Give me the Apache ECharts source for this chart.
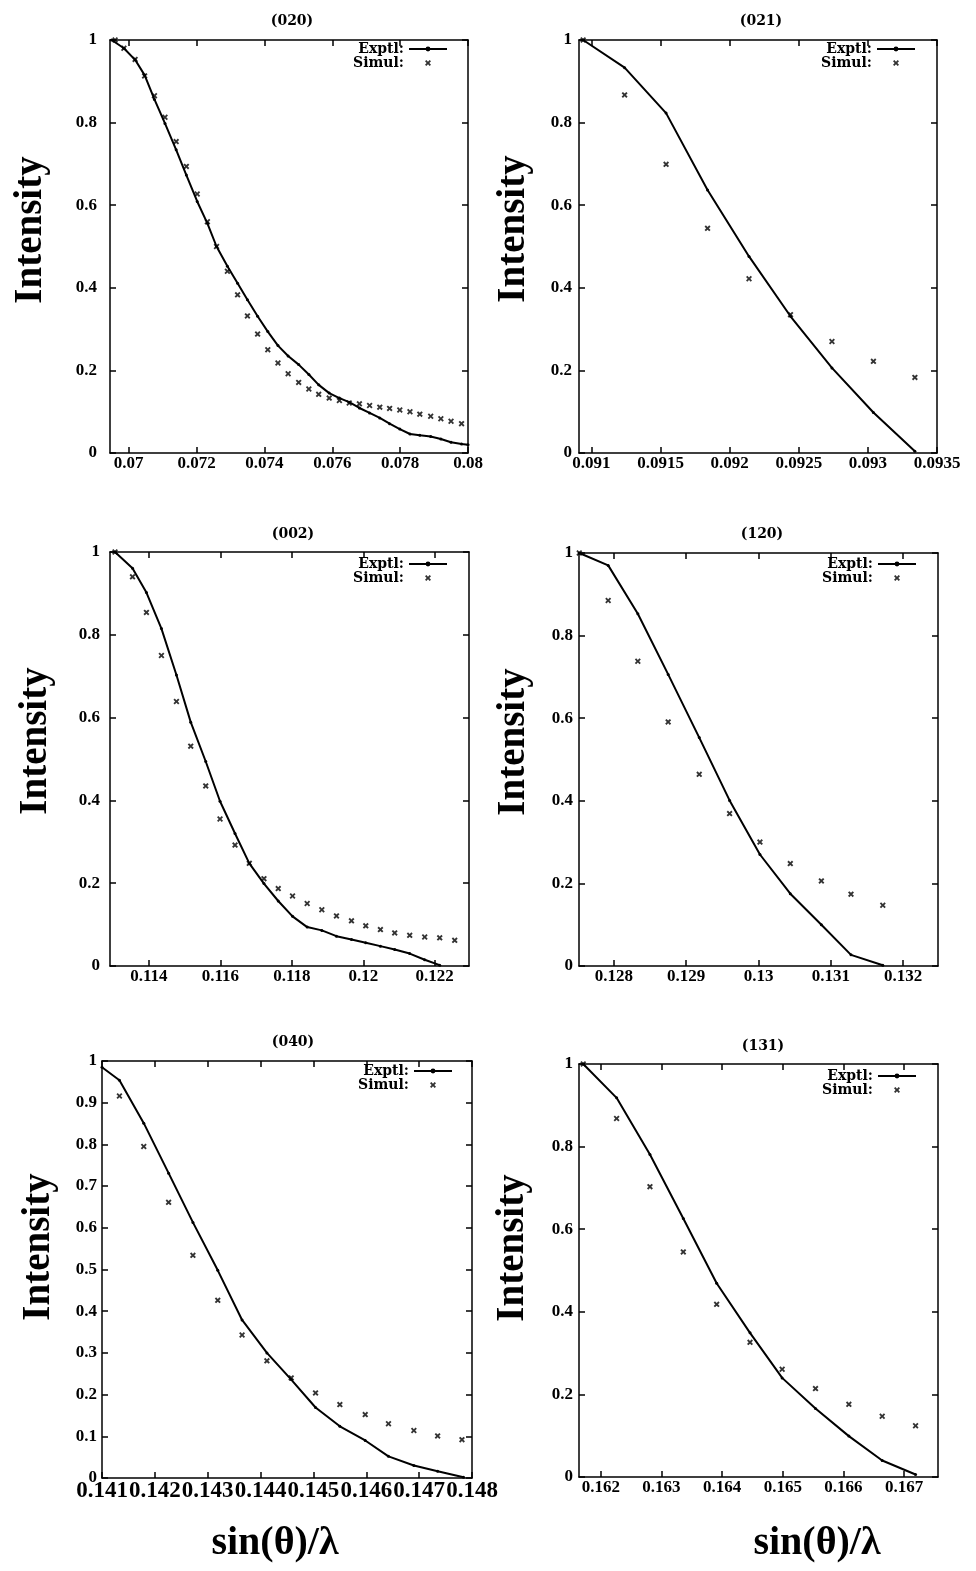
<!DOCTYPE html>
<html>
<head>
<meta charset="utf-8">
<title>Intensity vs sin(θ)/λ</title>
<style>
  html, body { margin: 0; padding: 0; background: #fff; }
  #main { width: 976px; height: 1571px; }
</style>
</head>
<body>
<div id="main"></div>
<script src="https://cdn.jsdelivr.net/npm/echarts@6/dist/echarts.min.js"></script>
<script>
// ---- data ----
// (020)
var x020 = [0.0695, 0.06986, 0.07019, 0.07047, 0.07076, 0.07107, 0.0714, 0.0717, 0.07202, 0.07232, 0.07259, 0.07291,
  0.07321, 0.0735, 0.0738, 0.0741, 0.0744, 0.0747, 0.07501, 0.07531, 0.0756, 0.07591, 0.07621, 0.0765, 0.0768, 0.0771,
  0.0774, 0.07769, 0.07799, 0.07829, 0.07858, 0.0789, 0.0792, 0.0795, 0.07981, 0.08];
var exptl020 = [1.0, 0.98, 0.952, 0.915, 0.856, 0.798, 0.734, 0.673, 0.609, 0.556, 0.5, 0.452, 0.411, 0.371, 0.331,
  0.294, 0.26, 0.235, 0.214, 0.19, 0.165, 0.145, 0.133, 0.123, 0.109, 0.097, 0.085, 0.071, 0.058, 0.046, 0.043, 0.04,
  0.034, 0.026, 0.022, 0.02];
var simX020 = [0.0696, 0.06986, 0.07019, 0.07047, 0.07076, 0.07107, 0.0714, 0.0717, 0.07202, 0.07232, 0.07259, 0.07291,
  0.07321, 0.0735, 0.0738, 0.0741, 0.0744, 0.0747, 0.07501, 0.07531, 0.0756, 0.07591, 0.07621, 0.0765, 0.0768, 0.0771,
  0.0774, 0.07769, 0.07799, 0.07829, 0.07858, 0.0789, 0.0792, 0.0795, 0.07981];
var simul020 = [1.0, 0.98, 0.953, 0.913, 0.865, 0.813, 0.754, 0.694, 0.627, 0.56, 0.5, 0.44, 0.383, 0.332, 0.288, 0.25,
  0.218, 0.192, 0.171, 0.155, 0.142, 0.133, 0.127, 0.121, 0.119, 0.115, 0.111, 0.108, 0.104, 0.1, 0.094, 0.089, 0.083,
  0.077, 0.071];

// (021)
var x021 = [0.09094, 0.09124, 0.09154, 0.09184, 0.09214, 0.09244, 0.09274, 0.09304, 0.09334];
var exptl021 = [1.0, 0.933, 0.823, 0.637, 0.476, 0.331, 0.206, 0.098, 0.004];
var simul021 = [1.0, 0.867, 0.699, 0.544, 0.422, 0.335, 0.27, 0.222, 0.183];

// (002)
var x002 = [0.11305, 0.11354, 0.11393, 0.11435, 0.11477, 0.11517, 0.11559, 0.11599, 0.11641, 0.11681, 0.11722, 0.11762,
  0.11802, 0.11843, 0.11884, 0.11925, 0.11967, 0.12007, 0.12048, 0.12088, 0.1213, 0.12172, 0.12214];
var exptl002 = [1.0, 0.961, 0.902, 0.815, 0.703, 0.589, 0.494, 0.398, 0.32, 0.248, 0.199, 0.157, 0.12, 0.094, 0.086,
  0.072, 0.064, 0.056, 0.048, 0.04, 0.03, 0.015, 0.002];
var simX002 = [0.11305, 0.11354, 0.11393, 0.11435, 0.11477, 0.11517, 0.11559, 0.11599, 0.11641, 0.11681, 0.11722, 0.11762,
  0.11802, 0.11843, 0.11884, 0.11925, 0.11967, 0.12007, 0.12048, 0.12088, 0.1213, 0.12172, 0.12214, 0.12256];
var simul002 = [1.0, 0.94, 0.854, 0.75, 0.639, 0.531, 0.435, 0.355, 0.292, 0.248, 0.211, 0.187, 0.169, 0.151, 0.136,
  0.121, 0.109, 0.097, 0.088, 0.08, 0.074, 0.07, 0.068, 0.062];

// (120)
var x120 = [0.12752, 0.12792, 0.12833, 0.12875, 0.12918, 0.1296, 0.13002, 0.13044, 0.13087, 0.13128, 0.13172];
var exptl120 = [1.0, 0.97, 0.853, 0.706, 0.553, 0.401, 0.27, 0.175, 0.1, 0.027, 0.002];
var simul120 = [1.0, 0.885, 0.738, 0.591, 0.464, 0.369, 0.3, 0.248, 0.206, 0.174, 0.147];

// (040)
var x040 = [0.141, 0.14133, 0.14179, 0.14226, 0.14272, 0.14319, 0.14365, 0.14412, 0.14458, 0.14504, 0.1455, 0.14598,
  0.14642, 0.1469, 0.14735, 0.14784];
var exptl040 = [0.985, 0.954, 0.851, 0.731, 0.613, 0.498, 0.379, 0.3, 0.236, 0.169, 0.124, 0.09, 0.052, 0.03, 0.016, 0.002];
var simX040 = [0.14133, 0.14179, 0.14226, 0.14272, 0.14319, 0.14365, 0.14412, 0.14458, 0.14504, 0.1455, 0.14598,
  0.14642, 0.1469, 0.14735, 0.14781];
var simul040 = [0.916, 0.795, 0.661, 0.534, 0.426, 0.343, 0.281, 0.24, 0.204, 0.176, 0.152, 0.13, 0.114, 0.101, 0.092];

// (131)
var x131 = [0.16171, 0.16226, 0.16281, 0.16336, 0.16391, 0.16446, 0.16499, 0.16554, 0.16609, 0.16664, 0.16719];
var exptl131 = [1.0, 0.918, 0.781, 0.626, 0.469, 0.349, 0.24, 0.166, 0.099, 0.04, 0.006];
var simul131 = [1.0, 0.868, 0.703, 0.545, 0.418, 0.326, 0.261, 0.214, 0.176, 0.147, 0.124];

// tick labels
var ticks020 = [0.07, 0.072, 0.074, 0.076, 0.078, 0.08];
var ticks021 = [0.091, 0.0915, 0.092, 0.0925, 0.093, 0.0935];
var ticks002 = [0.114, 0.116, 0.118, 0.12, 0.122];
var ticks120 = [0.128, 0.129, 0.13, 0.131, 0.132];
var ticks040 = [0.141, 0.142, 0.143, 0.144, 0.145, 0.146, 0.147, 0.148];
var ticks131 = [0.162, 0.163, 0.164, 0.165, 0.166, 0.167];

var FONT = "'Liberation Serif', 'Times New Roman', serif";
var WIDE = "'DejaVu Serif', serif";
// bold "x" used for the simulated points
var XMARK = 'path://M0,2.2 L2.2,0 L5,2.8 L7.8,0 L10,2.2 L7.2,5 L10,7.8 L7.8,10 L5,7.2 L2.2,10 L0,7.8 L2.8,5 Z';

function pairs(xs, ys) {
  return xs.map(function (x, i) { return [x, ys[i]]; });
}
function fmt(v) {
  return String(parseFloat(v.toFixed(5)));
}

// layout of the six frames
var panels = [
  { title: '(020)', box: [110, 40, 358, 413], xr: [0.06945, 0.08], ticks: ticks020, ex: pairs(x020, exptl020), si: pairs(simX020, simul020),
    tx: 292, ty: 21, iy: 230, ix: 31, ylm: 13, lgR: 528, lgT: 42 },
  { title: '(021)', box: [579, 40, 358, 413], xr: [0.09091, 0.0935], ticks: ticks021, ex: pairs(x021, exptl021), si: pairs(x021, simul021),
    tx: 761, ty: 21, iy: 229, ix: 514, ylm: 7, lgR: 60, lgT: 42 },
  { title: '(002)', box: [110, 552, 359, 414], xr: [0.11291, 0.12296], ticks: ticks002, ex: pairs(x002, exptl002), si: pairs(simX002, simul002),
    tx: 293, ty: 534, iy: 741, ix: 36, ylm: 10, lgR: 528, lgT: 557 },
  { title: '(120)', box: [579, 553, 359, 413], xr: [0.127516, 0.132484], ticks: ticks120, ex: pairs(x120, exptl120), si: pairs(x120, simul120),
    tx: 762, ty: 534, iy: 742, ix: 514, ylm: 6, lgR: 59, lgT: 557 },
  { title: '(040)', box: [102, 1061, 370, 417], xr: [0.141, 0.148], ticks: ticks040, ex: pairs(x040, exptl040), si: pairs(simX040, simul040),
    tx: 293, ty: 1042, iy: 1247, ix: 39, ylm: 5, lgR: 523, lgT: 1064, yInt: 0.1, xFont: 23 },
  { title: '(131)', box: [579, 1064, 359, 413], xr: [0.16164, 0.16756], ticks: ticks131, ex: pairs(x131, exptl131), si: pairs(x131, simul131),
    tx: 763, ty: 1046, iy: 1248, ix: 513, ylm: 6, lgR: 59, lgT: 1069 }
];

var axisLine = { show: true, onZero: false, lineStyle: { color: '#000', width: 1.5 } };
var axisTick = { show: true, inside: true, length: 6, lineStyle: { color: '#000', width: 1.5 } };

var grid = [], xAxis = [], yAxis = [], series = [], legend = [], graphic = [];

panels.forEach(function (p, i) {
  grid.push({ left: p.box[0], top: p.box[1], width: p.box[2], height: p.box[3], show: false });
  var xBase = { type: 'value', gridIndex: i, min: p.xr[0], max: p.xr[1], splitLine: { show: false },
    axisLine: axisLine };
  xAxis.push(Object.assign({}, xBase, {
    position: 'bottom',
    axisTick: Object.assign({}, axisTick, { customValues: p.ticks }),
    axisLabel: { customValues: p.ticks, formatter: fmt, margin: 2, color: '#000', fontFamily: FONT,
      fontWeight: 'bold', fontSize: p.xFont || 17, showMinLabel: true, showMaxLabel: true, hideOverlap: false }
  }));
  xAxis.push(Object.assign({}, xBase, {
    position: 'top',
    axisTick: Object.assign({}, axisTick, { customValues: p.ticks }),
    axisLabel: { show: false }
  }));
  var yBase = { type: 'value', gridIndex: i, min: 0, max: 1, interval: p.yInt || 0.2, splitLine: { show: false },
    axisLine: axisLine, axisTick: axisTick };
  yAxis.push(Object.assign({}, yBase, {
    position: 'left',
    axisLabel: { formatter: fmt, margin: p.ylm, color: '#000', fontFamily: FONT, fontWeight: 'bold', fontSize: 17,
      showMinLabel: true, showMaxLabel: true }
  }));
  yAxis.push(Object.assign({}, yBase, { position: 'right', axisLabel: { show: false } }));

  series.push({
    name: 'Exptl:', type: 'line', xAxisIndex: 2 * i, yAxisIndex: 2 * i, data: p.ex,
    symbol: 'circle', symbolSize: 3, showSymbol: true,
    lineStyle: { color: '#000', width: 2 }, itemStyle: { color: '#000' }
  });
  series.push({
    name: 'Simul:', type: 'scatter', xAxisIndex: 2 * i, yAxisIndex: 2 * i, data: p.si,
    symbol: XMARK, symbolSize: 6, itemStyle: { color: '#000' }
  });

  legend.push({
    orient: 'vertical', right: p.lgR, top: p.lgT, align: 'right', padding: 0, itemGap: 0,
    itemWidth: 38, itemHeight: 6, selectedMode: false,
    data: [{ name: 'Exptl:' }, { name: 'Simul:', icon: XMARK }],
    textStyle: { color: '#000', fontFamily: WIDE, fontWeight: 'bold', fontSize: 14, lineHeight: 11 }
  });

  graphic.push({
    type: 'text', x: p.tx, y: p.ty, silent: true,
    style: { text: p.title, align: 'center', verticalAlign: 'middle', textAlign: 'center', textVerticalAlign: 'middle',
      font: 'bold 14px ' + WIDE, fill: '#000' }
  });
  graphic.push({
    type: 'text', x: p.ix, y: p.iy, rotation: Math.PI / 2, silent: true,
    style: { text: 'Intensity', align: 'center', verticalAlign: 'middle', textAlign: 'center', textVerticalAlign: 'middle',
      font: 'bold 39px ' + FONT, fill: '#000' }
  });
});

[275, 817].forEach(function (cx) {
  graphic.push({
    type: 'text', x: cx, y: 1544, silent: true,
    style: { text: 'sin(θ)/λ', align: 'center', verticalAlign: 'middle', textAlign: 'center', textVerticalAlign: 'middle',
      font: 'bold 40px ' + FONT, fill: '#000' }
  });
});

var myChart = echarts.init(document.getElementById('main'), null, { renderer: 'canvas' });
myChart.setOption({
  backgroundColor: '#fff',
  animation: false,
  grid: grid,
  xAxis: xAxis,
  yAxis: yAxis,
  legend: legend,
  series: series,
  graphic: graphic
});
</script>
</body>
</html>
